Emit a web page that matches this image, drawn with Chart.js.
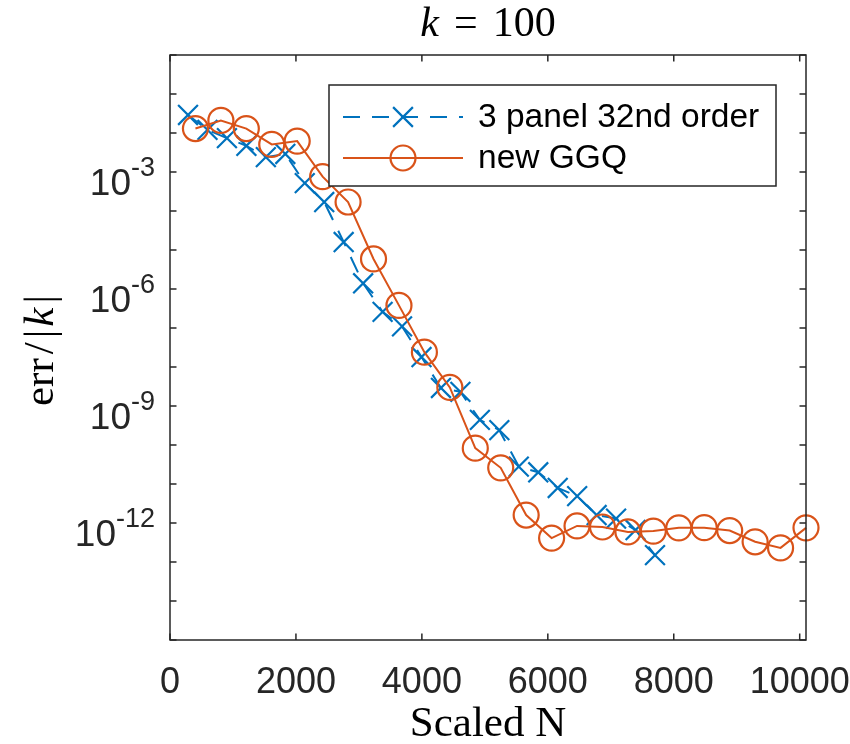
<!DOCTYPE html>
<html>
<head>
<meta charset="utf-8">
<script src="https://cdn.jsdelivr.net/npm/chart.js@4/dist/chart.umd.min.js"></script>
<style>
html,body{margin:0;padding:0;background:#fff;}
#wrap{width:850px;height:744px;position:relative;}
</style>
</head>
<body>
<div id="wrap"><canvas id="c" width="850" height="744"></canvas></div>
<script>
// ---------------- data ----------------
const seriesNames = ['3 panel 32nd order', 'new GGQ'];
const xAxisTitle = 'Scaled N';
const xTicks = [0, 2000, 4000, 6000, 8000, 10000];
const yTicks = [1e-15, 1e-14, 1e-13, 1e-12, 1e-11, 1e-10, 1e-9, 1e-8, 1e-7, 1e-6, 1e-5, 1e-4, 1e-3, 1e-2, 1e-1, 1];
const yLabelTicks = [1e-12, 1e-9, 1e-6, 1e-3];

const panelX = [286, 595, 904, 1213, 1522, 1831, 2140, 2449, 2758, 3067, 3376, 3685, 3994, 4303, 4612, 4921, 5230, 5539, 5848, 6157, 6466, 6775, 7084, 7393, 7702];
const panelY = [2.9e-2, 1.2e-2, 7.4e-3, 4.7e-3, 2.4e-3, 2.9e-3, 5.2e-4, 1.7e-4, 1.6e-5, 1.4e-6, 2.6e-7, 1.1e-7, 1.8e-8, 2.9e-9, 2.3e-9, 4.4e-10, 2.4e-10, 2.8e-11, 2.0e-11, 7.9e-12, 4.9e-12, 1.6e-12, 1.3e-12, 6.6e-13, 1.5e-13];

const ggqX = [404, 808, 1212, 1616, 2020, 2424, 2828, 3232, 3636, 4040, 4444, 4848, 5252, 5656, 6060, 6464, 6868, 7272, 7676, 8080, 8484, 8888, 9292, 9696, 10100];
const ggqY = [1.3e-2, 2.1e-2, 1.3e-2, 5.1e-3, 6.2e-3, 7.6e-4, 1.7e-4, 5.9e-6, 3.8e-7, 2.4e-8, 3.0e-9, 8.3e-11, 2.6e-11, 1.6e-12, 4.1e-13, 8.4e-13, 7.9e-13, 5.9e-13, 6.2e-13, 7.5e-13, 7.6e-13, 6.4e-13, 3.3e-13, 2.3e-13, 7.5e-13];

// ---------------- styles ----------------
const BLUE = '#0072BD';
const ORANGE = '#D95319';
const AXIS = '#262626';
const SANS = '"Liberation Sans", Arial, Helvetica, sans-serif';
const SERIF = '"Liberation Serif", "Times New Roman", serif';

const toPts = (xs, ys) => xs.map((x, i) => ({x: x, y: ys[i]}));

const decor = {
  id: 'decor',
  afterDatasetsDraw(chart) {
    const ctx = chart.ctx;
    const ca = chart.chartArea;
    const sx = chart.scales.x, sy = chart.scales.y;
    ctx.save();
    // axes box
    ctx.strokeStyle = AXIS;
    ctx.lineWidth = 1.5;
    ctx.setLineDash([]);
    ctx.strokeRect(ca.left, ca.top, ca.right - ca.left, ca.bottom - ca.top);
    const tl = 6.5;
    ctx.beginPath();
    xTicks.forEach(v => {
      const px = sx.getPixelForValue(v);
      ctx.moveTo(px, ca.bottom); ctx.lineTo(px, ca.bottom - tl);
      ctx.moveTo(px, ca.top); ctx.lineTo(px, ca.top + tl);
    });
    yTicks.forEach(v => {
      const py = sy.getPixelForValue(v);
      ctx.moveTo(ca.left, py); ctx.lineTo(ca.left + tl, py);
      ctx.moveTo(ca.right, py); ctx.lineTo(ca.right - tl, py);
    });
    ctx.stroke();

    // x tick labels
    ctx.fillStyle = AXIS;
    ctx.font = '36px ' + SANS;
    ctx.textAlign = 'center';
    ctx.textBaseline = 'alphabetic';
    xTicks.forEach(v => {
      ctx.fillText(String(v), sx.getPixelForValue(v), ca.bottom + 53);
    });

    // y tick labels 10^n
    const rightEdge = ca.left - 15;
    yLabelTicks.forEach(v => {
      const py = sy.getPixelForValue(v);
      const e = '-' + String(Math.abs(Math.round(Math.log10(v))));
      ctx.font = '27px ' + SANS;
      const ew = ctx.measureText(e).width;
      ctx.textAlign = 'left';
      ctx.fillText(e, rightEdge - ew, py + 4);
      ctx.font = '37px ' + SANS;
      ctx.textAlign = 'right';
      ctx.fillText('10', rightEdge - ew, py + 23);
    });

    // x axis title
    ctx.fillStyle = '#000';
    ctx.font = '43px ' + SERIF;
    ctx.textAlign = 'center';
    ctx.fillText(xAxisTitle, (ca.left + ca.right) / 2, ca.bottom + 96);

    // title  k = 100
    const cx = (ca.left + ca.right) / 2;
    const tparts = [
      {t: 'k', f: 'italic 42px ' + SERIF},
      {t: '=', f: '42px ' + SERIF},
      {t: '100', f: '42px ' + SERIF}
    ];
    const gap = 15;
    let total = 0;
    tparts.forEach(p => { ctx.font = p.f; p.w = ctx.measureText(p.t).width; total += p.w; });
    total += gap * (tparts.length - 1);
    let tx = cx - total / 2;
    ctx.textAlign = 'left';
    tparts.forEach(p => { ctx.font = p.f; ctx.fillText(p.t, tx, 36); tx += p.w + gap; });

    // y axis title  err/|k|
    const yparts = [
      {t: 'err', f: '43px ' + SERIF, g: 4},
      {t: '/', f: '43px ' + SERIF, g: 4},
      {t: '|', f: '43px ' + SERIF, g: 3},
      {t: 'k', f: 'italic 43px ' + SERIF, g: 4},
      {t: '|', f: '43px ' + SERIF, g: 0}
    ];
    let ytot = 0;
    yparts.forEach(p => { ctx.font = p.f; p.w = ctx.measureText(p.t).width; ytot += p.w + p.g; });
    ctx.save();
    ctx.translate(53, (ca.top + ca.bottom) / 2 + 3);
    ctx.rotate(-Math.PI / 2);
    let yx = -ytot / 2;
    yparts.forEach(p => { ctx.font = p.f; ctx.fillText(p.t, yx, 0); yx += p.w + p.g; });
    ctx.restore();

    // legend
    const bx = ca.left + 159, by = ca.top + 30, bw = 447, bh = 101;
    ctx.fillStyle = '#fff';
    ctx.fillRect(bx, by, bw, bh);
    ctx.strokeStyle = AXIS;
    ctx.lineWidth = 1.5;
    ctx.strokeRect(bx, by, bw, bh);
    chart.data.datasets.forEach((d, i) => {
      const cy = by + 32 + i * 41;
      ctx.strokeStyle = d.borderColor;
      ctx.lineWidth = d.borderWidth;
      ctx.setLineDash(d.borderDash || []);
      ctx.beginPath();
      ctx.moveTo(bx + 14, cy);
      ctx.lineTo(bx + 134, cy);
      ctx.stroke();
      ctx.setLineDash([]);
      ctx.fillStyle = 'rgba(0,0,0,0)';
      ctx.lineWidth = d.pointBorderWidth;
      Chart.helpers.drawPoint(ctx, {pointStyle: d.pointStyle, radius: d.pointRadius, borderWidth: d.pointBorderWidth, rotation: 0}, bx + 74, cy);
      ctx.fillStyle = '#000';
      ctx.font = '33.5px ' + SANS;
      ctx.textAlign = 'left';
      ctx.textBaseline = 'middle';
      ctx.fillText(d.label, bx + 149, cy + 1);
      ctx.textBaseline = 'alphabetic';
    });
    ctx.restore();
  }
};

new Chart(document.getElementById('c'), {
  type: 'line',
  data: {
    datasets: [
      {
        label: seriesNames[0],
        data: toPts(panelX, panelY),
        borderColor: BLUE,
        backgroundColor: 'rgba(0,0,0,0)',
        borderWidth: 2,
        borderDash: [17, 12],
        pointStyle: 'crossRot',
        pointRadius: 14,
        pointBorderWidth: 2.2,
        pointBorderColor: BLUE,
        pointBackgroundColor: 'rgba(0,0,0,0)',
        fill: false,
        tension: 0,
        clip: false,
        order: 2
      },
      {
        label: seriesNames[1],
        data: toPts(ggqX, ggqY),
        borderColor: ORANGE,
        backgroundColor: 'rgba(0,0,0,0)',
        borderWidth: 2,
        pointStyle: 'circle',
        pointRadius: 12.5,
        pointBorderWidth: 2.2,
        pointBorderColor: ORANGE,
        pointBackgroundColor: 'rgba(0,0,0,0)',
        fill: false,
        tension: 0,
        clip: false,
        order: 1
      }
    ]
  },
  options: {
    responsive: false,
    animation: false,
    devicePixelRatio: 1,
    layout: {padding: {top: 55, right: 44, left: 0, bottom: 0}},
    plugins: {legend: {display: false}, tooltip: {enabled: false}, title: {display: false}},
    events: [],
    scales: {
      x: {
        type: 'linear',
        min: 0,
        max: 10100,
        ticks: {display: false},
        grid: {display: false},
        border: {display: false},
        afterBuildTicks: s => { s.ticks = xTicks.map(v => ({value: v})); },
        afterFit: s => { s.height = 104; }
      },
      y: {
        type: 'logarithmic',
        min: 1e-15,
        max: 1,
        ticks: {display: false},
        grid: {display: false},
        border: {display: false},
        afterBuildTicks: s => { s.ticks = yTicks.map(v => ({value: v})); },
        afterFit: s => { s.width = 170; }
      }
    }
  },
  plugins: [decor]
});
</script>
</body>
</html>
